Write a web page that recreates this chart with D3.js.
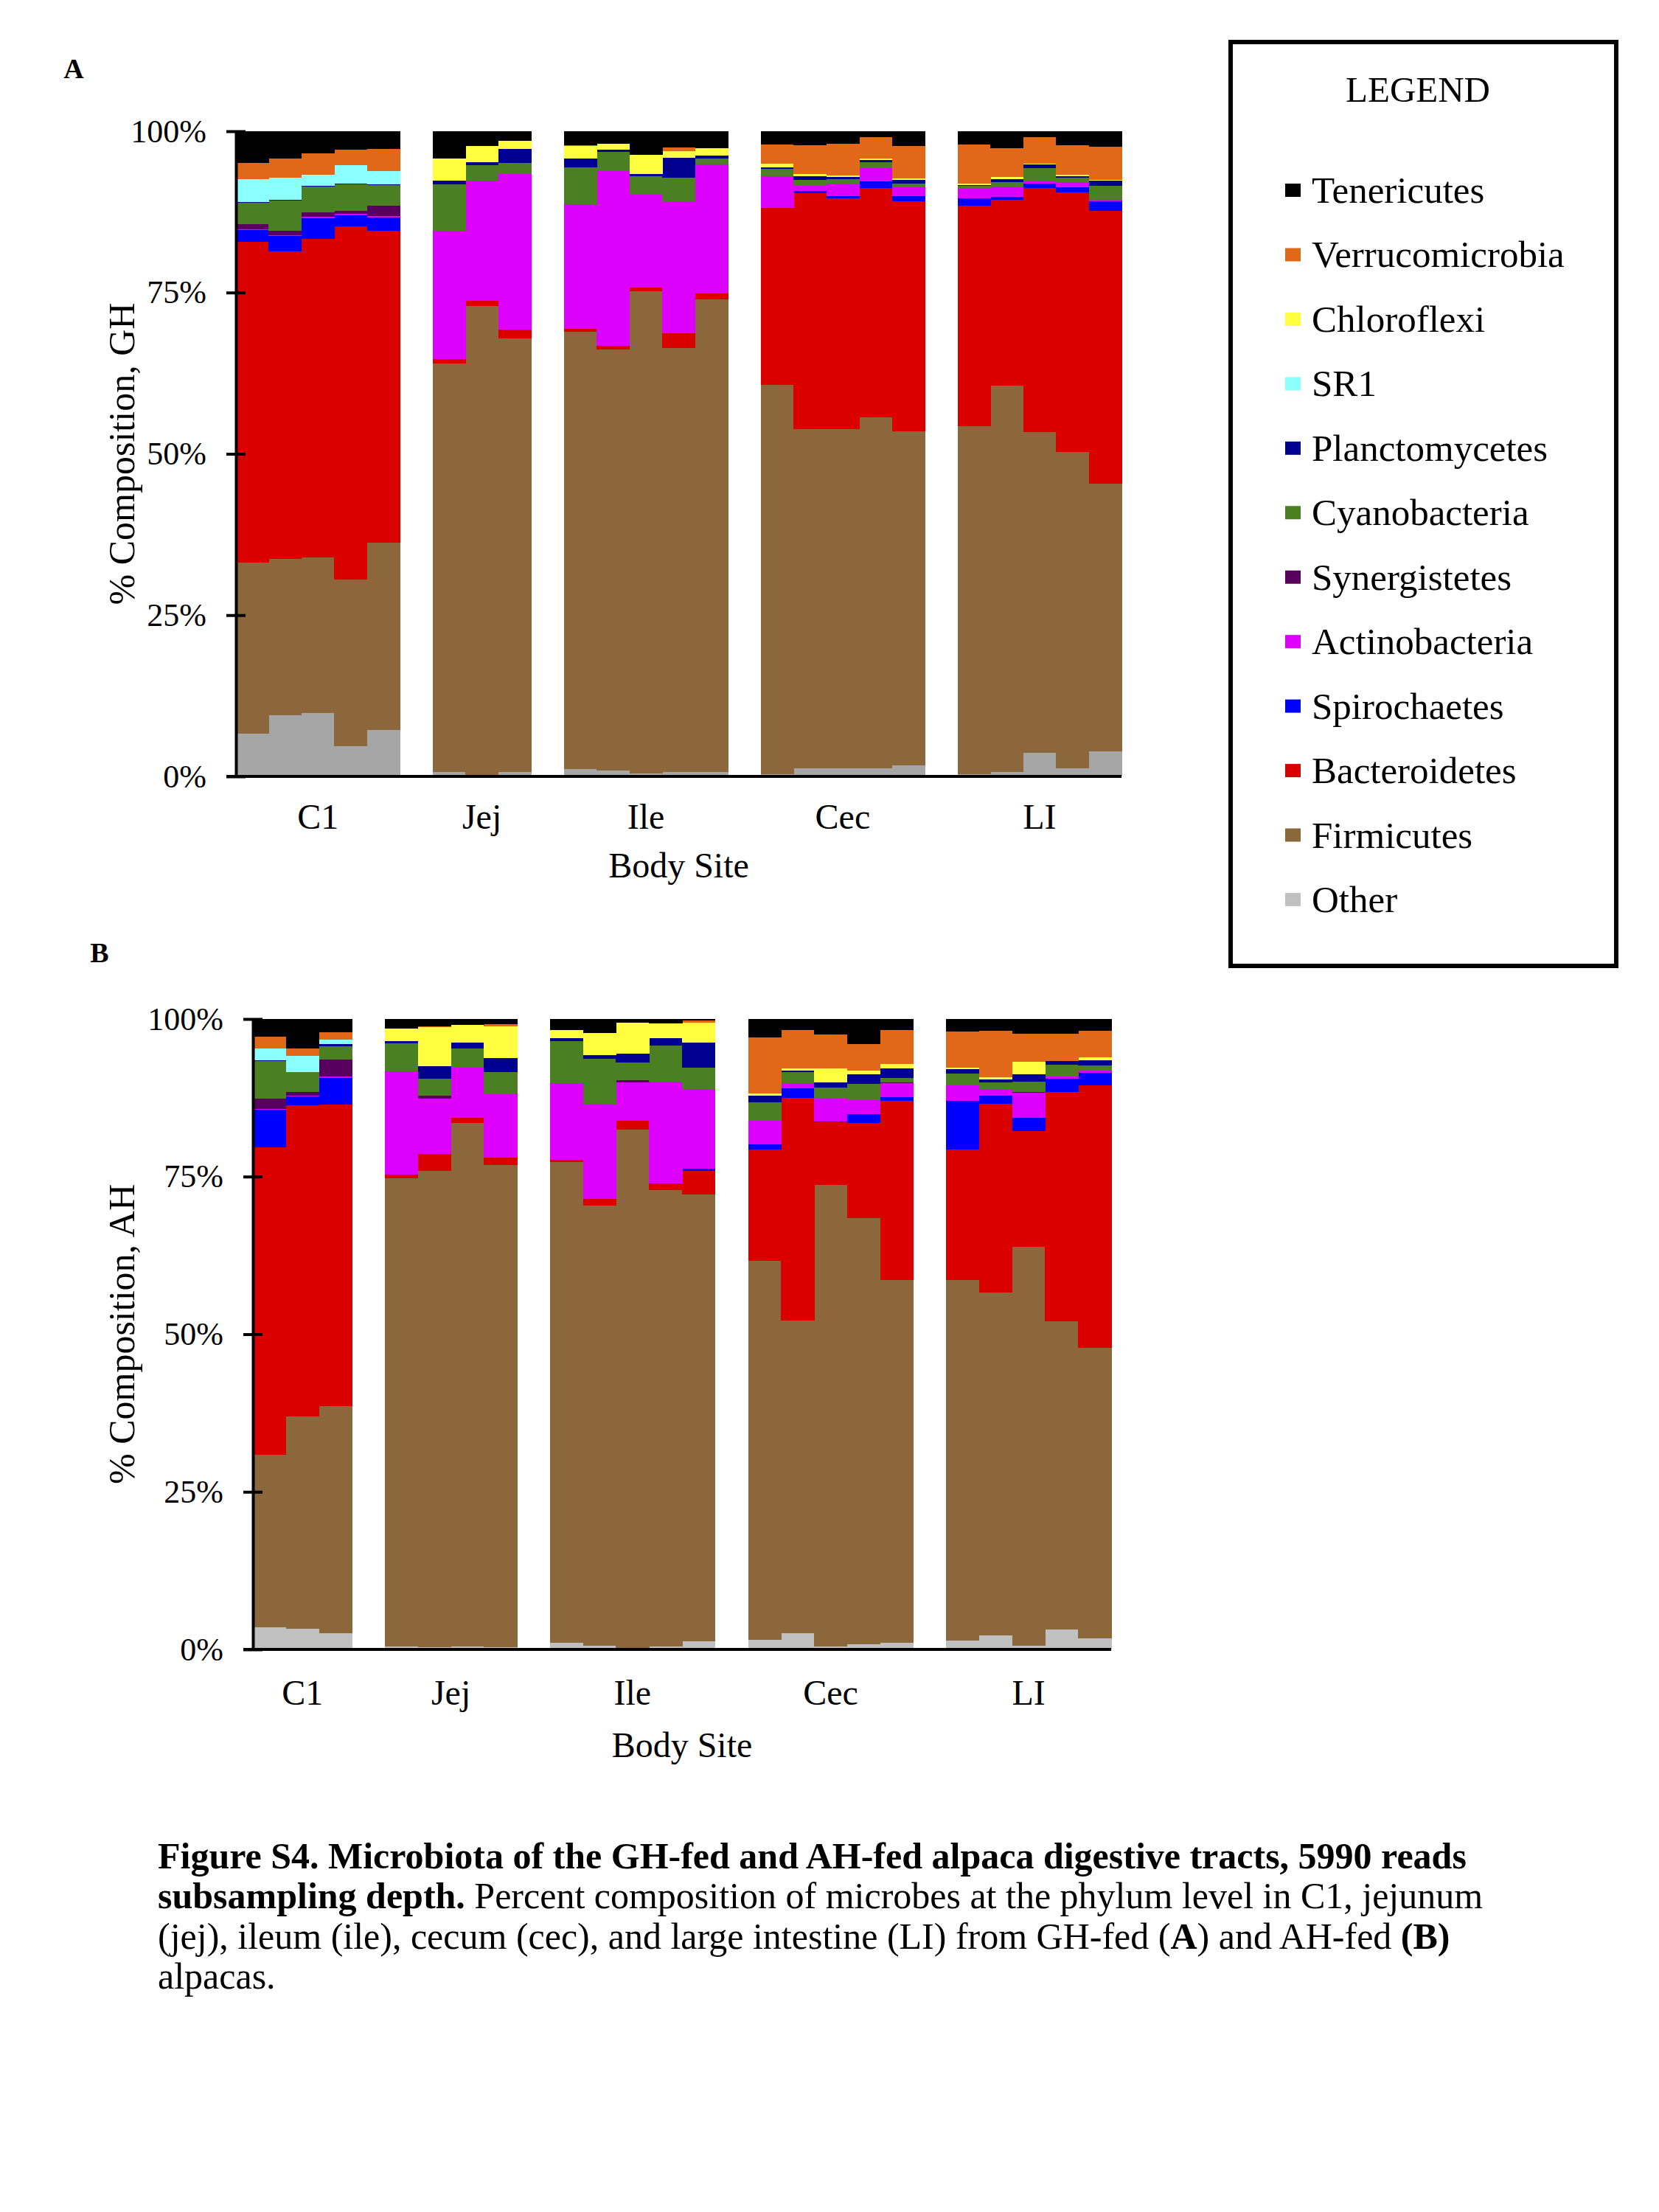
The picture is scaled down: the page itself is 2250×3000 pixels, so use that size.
<!DOCTYPE html>
<html><head><meta charset="utf-8">
<script src="https://cdn.jsdelivr.net/npm/d3@7"></script>
<style>
body{margin:0;background:#fff}
svg text{font-family:"Liberation Serif","Times New Roman",serif;fill:#000}
</style>
</head><body>
<svg id="chart" width="2250" height="3000"></svg>
<script>
// ---------- DATA ----------
const phyla = ["Other","Firmicutes","Bacteroidetes","Spirochaetes","Actinobacteria","Synergistetes","Cyanobacteria","Planctomycetes","SR1","Chloroflexi","Verrucomicrobia","Tenericutes"];
const phylumColors = ["#C0C0C0","#8B673B","#DA0000","#0000FF","#DD00FF","#58005E","#4A7F22","#000090","#8CFFFF","#FFFF40","#E06818","#000000"];
const legendOrder = ["Tenericutes","Verrucomicrobia","Chloroflexi","SR1","Planctomycetes","Cyanobacteria","Synergistetes","Actinobacteria","Spirochaetes","Bacteroidetes","Firmicutes","Other"];
const sites = ["C1","Jej","Ile","Cec","LI"];
const barsPerSiteGH = [5,3,5,5,5];
const barsPerSiteAH = [3,4,5,5,5];
const yTicks = [0,25,50,75,100];

// GH-fed (A): C1 x5, Jej x3, Ile x5, Cec x5, LI x5
const ghTenericutes     = [4.9,4.26,3.46,2.85,2.78, 4.26,2.32,1.45, 2.13,1.94,3.69,2.51,2.66, 2.05,2.13,1.94,0.91,2.28, 2.05,2.63,0.91,2.2,2.44];
const ghVerrucomicrobia = [2.56,2.93,3.31,2.44,3.35, 0,0,0, 0.1,0,0,0.53,0, 2.97,4.49,4.91,3.31,5.02, 6.09,4.45,4.11,4.49,5.1];
const ghChloroflexi     = [0,0,0,0,0, 3.35,2.47,1.33, 1.98,0.88,2.97,1.07,1.07, 0.61,0.3,0.23,0.23,0.23, 0.15,0.38,0.15,0.23,0.15];
const ghSR1             = [3.5,3.39,1.71,2.78,2.09, 0,0,0, 0,0,0,0,0, 0,0,0,0,0, 0,0,0,0,0];
const ghPlanctomycetes  = [0.1,0.1,0.05,0.1,0.15, 0.6,0.46,2.13, 1.33,0.38,0.27,3.04,0.49, 0.23,0.61,0.38,0.34,0.61, 0.15,0.46,0.53,0.23,0.76];
const ghCyanobacteria   = [3.3,4.7,4.03,4.2,3.2, 7.23,2.44,1.71, 5.75,2.93,2.93,3.73,0.88, 1.07,0.88,0.76,0.95,0.53, 0.46,0.61,2.05,0.76,2.13];
const ghSynergistetes   = [0.84,0.7,0.68,0.46,1.6, 0,0,0, 0,0,0,0,0, 0,0,0,0,0, 0,0,0,0,0];
const ghActinobacteria  = [0.1,0.15,0.2,0.15,0.2, 19.9,18.6,24.16, 19.3,27.1,14.42,20.4,20.1, 4.95,0.88,1.83,2.02,1.37, 1.45,1.6,0.38,0.76,0.3];
const ghSpirochaetes    = [1.85,2.36,3.2,1.8,2.09, 0,0,0, 0,0,0,0,0, 0,0.3,0.34,1.03,0.84, 1.14,0.46,0.68,0.76,1.45];
const ghBacteroidetes   = [49.7,47.7,49.4,54.7,48.3, 0.65,0.84,1.37, 0.46,0.57,0.49,2.32,0.91, 27.4,36.6,35.8,35.5,35.67, 34.18,28.84,37.8,40.24,42.32];
const ghFirmicutes      = [26.6,24.2,24.2,25.7,29.0, 63.4,72.6,67.2, 67.7,65.25,74.75,65.76,73.18, 60.4,52.5,52.5,54.5,51.77, 54.0,59.94,49.68,49.04,41.5];
const ghOther           = [6.6,9.45,9.78,4.73,7.2, 0.64,0.24,0.64, 1.12,0.96,0.48,0.64,0.72, 0.32,1.28,1.28,1.2,1.68, 0.32,0.64,3.69,1.28,3.85];

// AH-fed (B): C1 x3, Jej x4, Ile x5, Cec x5, LI x5
const ahTenericutes     = [2.8,4.67,2.1, 1.52,1.21,0.97,0.82, 1.79,2.18,0.62,0.74,0.23, 2.88,1.79,2.49,3.93,1.79, 2.02,1.91,2.34,2.34,1.87];
const ahVerrucomicrobia = [1.83,1.13,1.17, 0,0.1,0,0.31, 0,0.1,0,0,0.39, 8.88,6.0,5.37,4.24,5.37, 5.72,7.32,4.44,4.36,4.24];
const ahChloroflexi     = [0,0.1,0, 1.95,6.23,2.8,5.02, 1.28,3.43,4.87,2.34,3.12, 0.39,0.35,2.14,0.62,0.62, 0.2,0.39,2.02,0,0.39];
const ahSR1             = [1.95,2.53,0.66, 0,0,0,0, 0,0,0,0,0, 0,0,0,0,0, 0,0,0,0,0];
const ahPlanctomycetes  = [0.1,0,0.39, 0.39,1.95,0.86,2.26, 0.47,0.58,1.4,1.17,3.97, 1.05,0.27,0.9,1.48,1.56, 0.7,0.47,1.17,0.55,0.86];
const ahCyanobacteria   = [5.96,3.12,2.06, 4.4,2.73,3.12,3.47, 6.58,7.28,2.8,5.65,3.35, 2.92,1.75,1.79,2.65,0.74, 1.83,1.17,1.56,1.87,0.78];
const ahSynergistetes   = [1.6,0.66,2.8, 0,0.47,0,0, 0,0,0.31,0,0, 0,0,0,0,0.1, 0,0,0.15,0,0];
const ahActinobacteria  = [0.1,0.1,0.23, 16.36,8.68,7.9,10.16, 12.23,14.91,6.1,16.16,12.66, 3.82,0.82,3.54,2.22,2.26, 2.57,0.86,4.05,0.31,0.39];
const ahSpirochaetes    = [6.0,1.4,4.17, 0,0,0,0, 0,0,0,0,0.39, 0.78,1.52,0.2,1.36,0.55, 7.63,1.29,2.1,2.1,1.95];
const ahBacteroidetes   = [48.76,49.35,47.82, 0.66,2.73,0.86,1.09, 0.39,1.05,1.48,1.05,3.78, 17.7,35.28,9.92,15.03,28.46, 20.79,29.94,18.29,36.42,41.74];
const ahFirmicutes      = [27.42,33.67,36.04, 74.23,75.57,83.0,76.54, 76.19,69.89,82.17,72.4,70.8, 60.02,49.67,73.16,67.65,57.47, 57.14,54.43,63.31,48.93,46.06];
const ahOther           = [3.45,3.28,2.55, 0.49,0.33,0.49,0.33, 1.07,0.57,0.25,0.49,1.31, 1.56,2.55,0.49,0.82,1.07, 1.4,2.22,0.57,3.12,1.72];

const ghSeries = [ghOther,ghFirmicutes,ghBacteroidetes,ghSpirochaetes,ghActinobacteria,ghSynergistetes,ghCyanobacteria,ghPlanctomycetes,ghSR1,ghChloroflexi,ghVerrucomicrobia,ghTenericutes];
const ahSeries = [ahOther,ahFirmicutes,ahBacteroidetes,ahSpirochaetes,ahActinobacteria,ahSynergistetes,ahCyanobacteria,ahPlanctomycetes,ahSR1,ahChloroflexi,ahVerrucomicrobia,ahTenericutes];

// ---------- DRAW ----------
const svg = d3.select("#chart");
svg.append("rect").attr("width",2250).attr("height",3000).attr("fill","#fff");
const color = d3.scaleOrdinal().domain(phyla).range(phylumColors);

function buildPanel(cfg){
  const slots = [], bars = [];
  let k = 0;
  sites.forEach((s,si)=>{
    for(let b=0;b<cfg.counts[si];b++){
      const id = s+"-"+(b+1);
      const row = {id, site:s};
      phyla.forEach((p,pi)=>{ row[p] = cfg.series[pi][k]; });
      bars.push(row); slots.push(id); k++;
    }
    if(si<sites.length-1) slots.push("gap"+si);
  });
  const x = d3.scaleBand().domain(slots).range([cfg.x0,cfg.x1]).padding(0);
  const y = d3.scaleLinear().domain([0,1]).range([cfg.yBot,cfg.yTop]);
  const stacked = d3.stack().keys(phyla).offset(d3.stackOffsetExpand)(bars);

  const g = svg.append("g");
  g.selectAll("g.layer").data(stacked).join("g")
    .attr("class","layer")
    .attr("fill",d=> d.key==="Other" ? cfg.otherColor : color(d.key))
    .selectAll("rect").data(d=>d).join("rect")
      .attr("x",d=>x(d.data.id))
      .attr("width",x.bandwidth()+0.5)
      .attr("y",d=>y(d[1]))
      .attr("height",d=>Math.max(0,y(d[0])-y(d[1])))
      .attr("shape-rendering","crispEdges");

  const yPct = d3.scaleLinear().domain([0,100]).range([cfg.yBot,cfg.yTop]);
  const ax = g.append("g").attr("transform",`translate(${cfg.x0},0)`)
    .call(d3.axisLeft(yPct).tickValues(yTicks).tickFormat(d=>d+"%").tickSizeInner(13).tickSizeOuter(0).tickPadding(27));
  ax.select(".domain").attr("stroke","#000").attr("stroke-width",4);
  ax.selectAll(".tick line").attr("x1",-13).attr("x2",13).attr("stroke","#000").attr("stroke-width",4);
  ax.selectAll(".tick text").attr("font-size",44).attr("font-family","Liberation Serif").attr("fill","#000");

  g.append("line").attr("x1",cfg.x0-13).attr("x2",cfg.x1).attr("y1",cfg.yBot).attr("y2",cfg.yBot)
    .attr("stroke","#000").attr("stroke-width",4);

  sites.forEach(s=>{
    const ids = bars.filter(b=>b.site===s).map(b=>b.id);
    const cx = (x(ids[0]) + x(ids[ids.length-1]) + x.bandwidth())/2;
    g.append("text").attr("x",cx).attr("y",cfg.yBot+cfg.catDy).attr("text-anchor","middle")
      .attr("font-size",48).text(s);
  });
  g.append("text").attr("x",(cfg.x0+cfg.x1)/2).attr("y",cfg.yBot+cfg.titleDy).attr("text-anchor","middle")
    .attr("font-size",48).text("Body Site");
  g.append("text").attr("transform",`translate(182,${(cfg.yTop+cfg.yBot)/2}) rotate(-90)`)
    .attr("text-anchor","middle").attr("font-size",50).text(cfg.yTitle);
  g.append("text").attr("x",cfg.labelX).attr("y",cfg.labelY).attr("text-anchor","middle")
    .attr("font-size",38).attr("font-weight","bold").text(cfg.label);
}

buildPanel({series:ghSeries,counts:barsPerSiteGH,x0:320,x1:1521,yTop:178,yBot:1053,catDy:71,titleDy:137,
  otherColor:"#A6A6A6",yTitle:"% Composition, GH",label:"A",labelX:100,labelY:106});
buildPanel({series:ahSeries,counts:barsPerSiteAH,x0:343,x1:1507,yTop:1382,yBot:2237,catDy:75,titleDy:146,
  otherColor:"#C0C0C0",yTitle:"% Composition, AH",label:"B",labelX:135,labelY:1305});

// ---------- LEGEND ----------
const lg = svg.append("g");
lg.append("rect").attr("x",1669).attr("y",57).attr("width",523).attr("height",1253)
  .attr("fill","#fff").attr("stroke","#000").attr("stroke-width",6);
lg.append("text").attr("x",1923).attr("y",138).attr("text-anchor","middle").attr("font-size",49).text("LEGEND");
const ly = d3.scalePoint().domain(legendOrder).range([258,1220]);
const items = lg.selectAll("g.item").data(legendOrder).join("g").attr("class","item")
  .attr("transform",d=>`translate(0,${ly(d)})`);
items.append("rect").attr("x",1743).attr("y",-9).attr("width",21).attr("height",18).attr("fill",d=>color(d));
items.append("text").attr("x",1779).attr("y",17).attr("font-size",51).text(d=>d);

// ---------- CAPTION ----------
const capLines = [
  [["Figure S4. Microbiota of the GH-fed and AH-fed alpaca digestive tracts, 5990 reads",true]],
  [["subsampling depth.",true],[" Percent composition of microbes at the phylum level in C1, jejunum",false]],
  [["(jej), ileum (ile), cecum (cec), and large intestine (LI) from GH-fed (",false],["A",true],[") and AH-fed ",false],["(B)",true]],
  [["alpacas.",false]]
];
capLines.forEach((ln,i)=>{
  const t = svg.append("text").attr("x",214).attr("y",2534+i*54.3).attr("font-size",50).attr("xml:space","preserve");
  ln.forEach(([s,b])=>{ t.append("tspan").attr("font-weight",b?"bold":"normal").text(s); });
});
</script>
</body></html>
